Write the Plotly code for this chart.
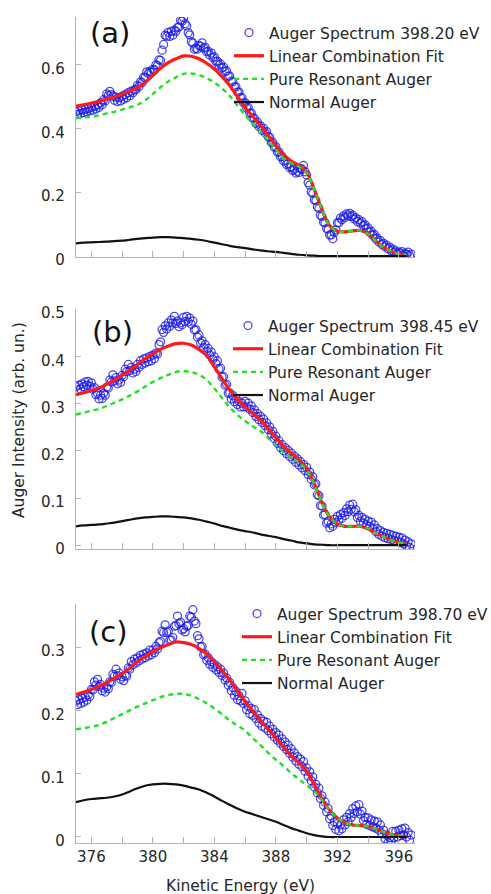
import numpy as np
import plotly.graph_objects as go

# ---------------------------------------------------------------
# Kinetic-energy grids: measured spectra (0.1 eV) and model curves (0.5 eV)
# ---------------------------------------------------------------
energy_data = np.round(np.arange(375.0, 396.85, 0.1), 1)  # 375.0 ... 396.8
energy_model = np.round(np.arange(375.0, 396.6, 0.5), 1)  # 375.0 ... 396.5

# ---------------- (a) photon energy 398.20 eV ----------------
spec_a = [
    0.452, 0.444, 0.456, 0.447, 0.458, 0.449, 0.460, 0.452, 0.462, 0.455,
    0.466, 0.457, 0.469, 0.461, 0.474, 0.466, 0.480, 0.474, 0.490, 0.486,
    0.508, 0.503, 0.516, 0.506, 0.501, 0.488, 0.498, 0.484, 0.496, 0.486,
    0.501, 0.491, 0.506, 0.496, 0.512, 0.502, 0.517, 0.512, 0.521, 0.522,
    0.535, 0.531, 0.546, 0.543, 0.560, 0.559, 0.577, 0.572, 0.579, 0.575,
    0.585, 0.583, 0.599, 0.597, 0.615, 0.613, 0.645, 0.663, 0.692, 0.689,
    0.701, 0.688, 0.704, 0.692, 0.708, 0.704, 0.716, 0.718, 0.739, 0.736,
    0.747, 0.728, 0.721, 0.700, 0.693, 0.672, 0.667, 0.648, 0.651, 0.648,
    0.660, 0.657, 0.668, 0.652, 0.654, 0.640, 0.642, 0.630, 0.636, 0.622,
    0.624, 0.610, 0.610, 0.598, 0.602, 0.589, 0.592, 0.578, 0.580, 0.564,
    0.564, 0.548, 0.546, 0.530, 0.530, 0.514, 0.514, 0.496, 0.496, 0.480,
    0.480, 0.464, 0.466, 0.448, 0.448, 0.432, 0.432, 0.416, 0.420, 0.406,
    0.408, 0.394, 0.400, 0.386, 0.390, 0.374, 0.372, 0.356, 0.356, 0.341,
    0.342, 0.326, 0.326, 0.311, 0.312, 0.298, 0.300, 0.287, 0.290, 0.277,
    0.280, 0.268, 0.272, 0.260, 0.266, 0.262, 0.274, 0.272, 0.284, 0.264,
    0.254, 0.230, 0.222, 0.201, 0.196, 0.176, 0.174, 0.154, 0.149, 0.128,
    0.124, 0.106, 0.104, 0.086, 0.084, 0.066, 0.066, 0.054, 0.074, 0.082,
    0.104, 0.104, 0.119, 0.114, 0.126, 0.121, 0.132, 0.126, 0.134, 0.124,
    0.128, 0.116, 0.120, 0.108, 0.114, 0.103, 0.108, 0.095, 0.098, 0.085,
    0.088, 0.075, 0.078, 0.065, 0.068, 0.054, 0.056, 0.044, 0.049, 0.036,
    0.040, 0.029, 0.034, 0.023, 0.028, 0.017, 0.022, 0.011, 0.016, 0.006,
    0.012, 0.008, 0.014, 0.002, 0.008, 0.005, 0.012, 0.001, 0.006,
]
fit_a = [
    0.470, 0.474, 0.479, 0.484,
    0.492, 0.499, 0.507, 0.517,
    0.528, 0.544, 0.566, 0.588,
    0.606, 0.618, 0.627, 0.626,
    0.618, 0.604, 0.586, 0.562,
    0.534, 0.500, 0.466, 0.437,
    0.410, 0.378, 0.346, 0.318,
    0.298, 0.284, 0.262, 0.208,
    0.145, 0.095, 0.078, 0.076,
    0.079, 0.080, 0.069, 0.047,
    0.027, 0.015, 0.006, 0.003,
]
resonant_a = [
    0.432, 0.434, 0.437, 0.441,
    0.447, 0.452, 0.459, 0.466,
    0.474, 0.488, 0.508, 0.529,
    0.547, 0.560, 0.571, 0.572,
    0.567, 0.557, 0.544, 0.525,
    0.502, 0.472, 0.441, 0.416,
    0.392, 0.362, 0.333, 0.306,
    0.291, 0.280, 0.260, 0.207,
    0.145, 0.095, 0.078, 0.076,
    0.079, 0.080, 0.069, 0.047,
    0.027, 0.015, 0.006, 0.003,
]
normal_a = [
    0.040, 0.042, 0.043, 0.044,
    0.045, 0.047, 0.048, 0.051,
    0.054, 0.056, 0.058, 0.059,
    0.059, 0.058, 0.056, 0.054,
    0.051, 0.047, 0.042, 0.037,
    0.032, 0.028, 0.025, 0.021,
    0.018, 0.015, 0.013, 0.010,
    0.007, 0.004, 0.002, 0.001,
    0.000, 0.000, 0.000, 0.000,
    0.000, 0.000, 0.000, 0.000,
    0.000, 0.000, 0.000, 0.000,
]

# ---------------- (b) photon energy 398.45 eV ----------------
spec_b = [
    0.336, 0.329, 0.339, 0.331, 0.342, 0.336, 0.346, 0.339, 0.347, 0.337,
    0.344, 0.331, 0.334, 0.319, 0.322, 0.310, 0.318, 0.311, 0.322, 0.318,
    0.335, 0.333, 0.350, 0.346, 0.361, 0.348, 0.355, 0.342, 0.350, 0.345,
    0.360, 0.357, 0.373, 0.368, 0.383, 0.370, 0.377, 0.365, 0.373, 0.368,
    0.383, 0.377, 0.391, 0.383, 0.395, 0.386, 0.397, 0.389, 0.400, 0.391,
    0.403, 0.395, 0.407, 0.405, 0.425, 0.431, 0.457, 0.451, 0.465, 0.458,
    0.471, 0.464, 0.477, 0.471, 0.485, 0.470, 0.475, 0.463, 0.471, 0.467,
    0.483, 0.474, 0.485, 0.473, 0.481, 0.468, 0.475, 0.456, 0.457, 0.441,
    0.445, 0.429, 0.433, 0.419, 0.425, 0.411, 0.417, 0.403, 0.409, 0.394,
    0.399, 0.385, 0.391, 0.373, 0.375, 0.356, 0.357, 0.339, 0.341, 0.322,
    0.323, 0.310, 0.317, 0.304, 0.311, 0.298, 0.305, 0.293, 0.301, 0.293,
    0.305, 0.293, 0.301, 0.288, 0.295, 0.281, 0.287, 0.273, 0.279, 0.266,
    0.273, 0.260, 0.267, 0.253, 0.259, 0.245, 0.251, 0.236, 0.241, 0.226,
    0.231, 0.216, 0.221, 0.207, 0.213, 0.200, 0.207, 0.194, 0.201, 0.188,
    0.195, 0.182, 0.189, 0.176, 0.183, 0.170, 0.177, 0.164, 0.171, 0.158,
    0.165, 0.150, 0.155, 0.140, 0.145, 0.128, 0.130, 0.107, 0.105, 0.084,
    0.083, 0.064, 0.065, 0.047, 0.050, 0.037, 0.045, 0.040, 0.055, 0.048,
    0.061, 0.053, 0.065, 0.057, 0.069, 0.063, 0.077, 0.071, 0.085, 0.076,
    0.087, 0.071, 0.075, 0.059, 0.063, 0.051, 0.059, 0.047, 0.055, 0.043,
    0.051, 0.040, 0.049, 0.036, 0.043, 0.029, 0.035, 0.023, 0.031, 0.019,
    0.027, 0.016, 0.025, 0.014, 0.023, 0.012, 0.021, 0.010, 0.019, 0.008,
    0.017, 0.006, 0.015, 0.003, 0.011, -0.001, 0.007, -0.005, 0.003,
]
fit_b = [
    0.319, 0.323, 0.328, 0.333,
    0.341, 0.350, 0.360, 0.371,
    0.383, 0.395, 0.406, 0.415,
    0.422, 0.427, 0.428, 0.424,
    0.415, 0.402, 0.378, 0.353,
    0.329, 0.309, 0.293, 0.279,
    0.265, 0.247, 0.228, 0.210,
    0.195, 0.181, 0.163, 0.131,
    0.090, 0.060, 0.045, 0.040,
    0.040, 0.040, 0.035, 0.026,
    0.018, 0.011, 0.006, 0.002,
]
resonant_b = [
    0.277, 0.281, 0.285, 0.289,
    0.295, 0.302, 0.309, 0.317,
    0.326, 0.336, 0.346, 0.354,
    0.361, 0.367, 0.369, 0.367,
    0.361, 0.350, 0.332, 0.312,
    0.292, 0.276, 0.263, 0.252,
    0.242, 0.227, 0.211, 0.197,
    0.185, 0.175, 0.159, 0.129,
    0.089, 0.060, 0.045, 0.040,
    0.040, 0.040, 0.035, 0.026,
    0.018, 0.011, 0.006, 0.002,
]
normal_b = [
    0.040, 0.042, 0.043, 0.044,
    0.046, 0.048, 0.051, 0.054,
    0.057, 0.059, 0.060, 0.061,
    0.061, 0.060, 0.059, 0.057,
    0.054, 0.050, 0.046, 0.041,
    0.037, 0.033, 0.030, 0.027,
    0.023, 0.020, 0.017, 0.013,
    0.010, 0.006, 0.004, 0.002,
    0.001, 0.000, 0.000, 0.000,
    0.000, 0.000, 0.000, 0.000,
    0.000, 0.000, 0.000, 0.000,
]

# ---------------- (c) photon energy 398.70 eV ----------------
spec_c = [
    0.215, 0.209, 0.217, 0.211, 0.219, 0.213, 0.221, 0.216, 0.225, 0.222,
    0.233, 0.232, 0.245, 0.240, 0.249, 0.238, 0.241, 0.231, 0.235, 0.229,
    0.237, 0.234, 0.245, 0.244, 0.257, 0.254, 0.265, 0.255, 0.259, 0.249,
    0.253, 0.247, 0.255, 0.254, 0.267, 0.265, 0.277, 0.272, 0.281, 0.275,
    0.283, 0.278, 0.287, 0.281, 0.289, 0.283, 0.291, 0.286, 0.295, 0.288,
    0.295, 0.291, 0.301, 0.297, 0.307, 0.309, 0.325, 0.323, 0.335, 0.323,
    0.325, 0.311, 0.311, 0.315, 0.333, 0.334, 0.349, 0.337, 0.339, 0.327,
    0.329, 0.324, 0.333, 0.334, 0.349, 0.347, 0.359, 0.341, 0.337, 0.318,
    0.313, 0.300, 0.301, 0.288, 0.289, 0.279, 0.283, 0.273, 0.277, 0.268,
    0.273, 0.264, 0.269, 0.260, 0.265, 0.255, 0.259, 0.248, 0.251, 0.240,
    0.244, 0.231, 0.236, 0.224, 0.230, 0.217, 0.223, 0.215, 0.227, 0.211,
    0.215, 0.201, 0.207, 0.195, 0.203, 0.192, 0.201, 0.187, 0.193, 0.180,
    0.187, 0.175, 0.183, 0.172, 0.181, 0.168, 0.175, 0.163, 0.170, 0.158,
    0.165, 0.153, 0.161, 0.148, 0.155, 0.143, 0.150, 0.138, 0.145, 0.132,
    0.139, 0.126, 0.133, 0.120, 0.127, 0.115, 0.123, 0.111, 0.119, 0.104,
    0.109, 0.096, 0.103, 0.089, 0.095, 0.079, 0.083, 0.070, 0.077, 0.061,
    0.065, 0.050, 0.055, 0.040, 0.045, 0.029, 0.033, 0.018, 0.024, 0.012,
    0.021, 0.010, 0.019, 0.013, 0.027, 0.019, 0.031, 0.024, 0.037, 0.031,
    0.045, 0.037, 0.049, 0.040, 0.051, 0.036, 0.041, 0.026, 0.031, 0.020,
    0.030, 0.018, 0.027, 0.016, 0.025, 0.014, 0.024, 0.011, 0.019, 0.005,
    0.011, -0.003, 0.003, -0.009, -0.001, -0.006, 0.009, -0.001, 0.009, 0.000,
    0.011, 0.002, 0.013, 0.003, 0.014, 0.000, 0.007, -0.005, 0.003,
]
fit_c = [
    0.225, 0.229, 0.233, 0.238,
    0.244, 0.251, 0.258, 0.267,
    0.277, 0.285, 0.293, 0.299,
    0.304, 0.308, 0.307, 0.304,
    0.298, 0.289, 0.277, 0.263,
    0.248, 0.231, 0.214, 0.199,
    0.184, 0.170, 0.156, 0.142,
    0.128, 0.117, 0.104, 0.083,
    0.060, 0.042, 0.030, 0.023,
    0.019, 0.018, 0.017, 0.013,
    0.008, 0.004, 0.002, 0.000,
]
resonant_c = [
    0.170, 0.172, 0.174, 0.177,
    0.182, 0.188, 0.194, 0.200,
    0.206, 0.211, 0.216, 0.221,
    0.224, 0.226, 0.226, 0.223,
    0.218, 0.211, 0.203, 0.194,
    0.184, 0.176, 0.168, 0.156,
    0.145, 0.133, 0.122, 0.112,
    0.101, 0.091, 0.082, 0.072,
    0.058, 0.042, 0.030, 0.023,
    0.019, 0.018, 0.017, 0.013,
    0.008, 0.004, 0.002, 0.000,
]
normal_c = [
    0.055, 0.058, 0.060, 0.061,
    0.062, 0.064, 0.067, 0.072,
    0.077, 0.081, 0.083, 0.084,
    0.084, 0.083, 0.081, 0.078,
    0.075, 0.070, 0.064, 0.057,
    0.051, 0.045, 0.040, 0.036,
    0.032, 0.028, 0.024, 0.019,
    0.014, 0.010, 0.006, 0.003,
    0.001, 0.000, 0.000, 0.000,
    0.000, 0.000, 0.000, 0.000,
    0.000, 0.000, 0.000, 0.000,
]

photon_labels = ["398.20 eV", "398.45 eV", "398.70 eV"]
panel_tags = ["(a)", "(b)", "(c)"]
y_tick_sets = [[0, 0.2, 0.4, 0.6], [0, 0.1, 0.2, 0.3, 0.4, 0.5], [0, 0.1, 0.2, 0.3]]
y_ranges = [[-0.003, 0.749], [-0.008, 0.5005], [-0.0095, 0.368]]
x_tick_vals = [376, 378, 380, 382, 384, 386, 388, 390, 392, 394, 396]
x_tick_text = ["376", "", "380", "", "384", "", "388", "", "392", "", "396"]

panels = [
    (spec_a, fit_a, resonant_a, normal_a),
    (spec_b, fit_b, resonant_b, normal_b),
    (spec_c, fit_c, resonant_c, normal_c),
]

FONT = "DejaVu Sans"
TEXT = "#262626"
W, H = 491, 894
x_dom = [76 / W, 415 / W]
y_doms = [
    [1 - 257 / H, 1 - 17 / H],
    [1 - 549 / H, 1 - 309 / H],
    [1 - 843 / H, 1 - 604 / H],
]
legend_tops = [1 - 16 / H, 1 - 309 / H, 1 - 597 / H]
legend_lefts = [229 / W, 228 / W, 237 / W]
tag_pos = [(110, 33), (112, 332), (108, 632)]

fig = go.Figure()
axis_line = "#b4b4b4"

for i, (spec, fit, res, norm) in enumerate(panels):
    n = "" if i == 0 else str(i + 1)
    xa, ya = "x" + n, "y" + n
    leg = "legend" + n
    fig.add_trace(go.Scatter(
        x=energy_data, y=spec, mode="markers", xaxis=xa, yaxis=ya, legend=leg,
        name="Auger Spectrum " + photon_labels[i],
        marker=dict(symbol="circle-open", size=8, color="rgba(25,25,232,0.8)",
                    line=dict(width=1.25)),
    ))
    fig.add_trace(go.Scatter(
        x=energy_model, y=fit, mode="lines", xaxis=xa, yaxis=ya, legend=leg,
        name="Linear Combination Fit", line=dict(color="#ff1a1a", width=3.2, shape="spline"),
    ))
    fig.add_trace(go.Scatter(
        x=energy_model, y=res, mode="lines", xaxis=xa, yaxis=ya, legend=leg,
        name="Pure Resonant Auger",
        line=dict(color="#22e022", width=2.4, dash="5px,4px", shape="spline"),
    ))
    fig.add_trace(go.Scatter(
        x=energy_model, y=norm, mode="lines", xaxis=xa, yaxis=ya, legend=leg,
        name="Normal Auger", line=dict(color="#111111", width=2.2, shape="spline"),
    ))

    fig.update_layout({
        "xaxis" + n: dict(
            domain=x_dom, anchor=ya, range=[375, 397.05], automargin=False,
            showline=True, linecolor=axis_line, linewidth=1.2,
            ticks="inside", ticklen=6, tickcolor=axis_line, tickwidth=1,
            tickvals=x_tick_vals, ticktext=x_tick_text,
            showticklabels=(i == 2), showgrid=False, zeroline=False,
            tickfont=dict(family=FONT, size=15, color=TEXT),
        ),
        "yaxis" + n: dict(
            domain=y_doms[i], anchor=xa, range=y_ranges[i], automargin=False,
            showline=True, linecolor=axis_line, linewidth=1.2,
            ticks="inside", ticklen=5, tickcolor=axis_line, tickwidth=1,
            tickvals=y_tick_sets[i], showgrid=False, zeroline=False,
            tickfont=dict(family=FONT, size=15, color=TEXT),
            ticklabelstandoff=7, ticklabelshift=4,
        ),
        leg: dict(
            x=legend_lefts[i], y=legend_tops[i], xanchor="left", yanchor="top",
            bgcolor="rgba(0,0,0,0)", borderwidth=0, itemwidth=30,
            font=dict(family=FONT, size=15.5, color=TEXT),
            tracegroupgap=0,
        ),
    })
    tx, ty = tag_pos[i]
    fig.add_annotation(
        x=tx / W, y=1 - ty / H, xref="paper", yref="paper", showarrow=False,
        text=panel_tags[i], font=dict(family=FONT, size=29, color="#111111"),
        xanchor="center", yanchor="middle",
    )

fig.add_annotation(
    x=19 / W, y=1 - 420 / H, xref="paper", yref="paper", showarrow=False,
    text="Auger Intensity (arb. un.)", textangle=-90,
    font=dict(family=FONT, size=15.5, color=TEXT),
    xanchor="center", yanchor="middle",
)
fig.add_annotation(
    x=240 / W, y=1 - 886 / H, xref="paper", yref="paper", showarrow=False,
    text="Kinetic Energy (eV)",
    font=dict(family=FONT, size=15.5, color=TEXT),
    xanchor="center", yanchor="middle",
)

fig.update_layout(
    width=W, height=H, margin=dict(l=0, r=0, t=0, b=0, autoexpand=False),
    paper_bgcolor="white", plot_bgcolor="white", showlegend=True,
)

fig.write_html("out.html")
